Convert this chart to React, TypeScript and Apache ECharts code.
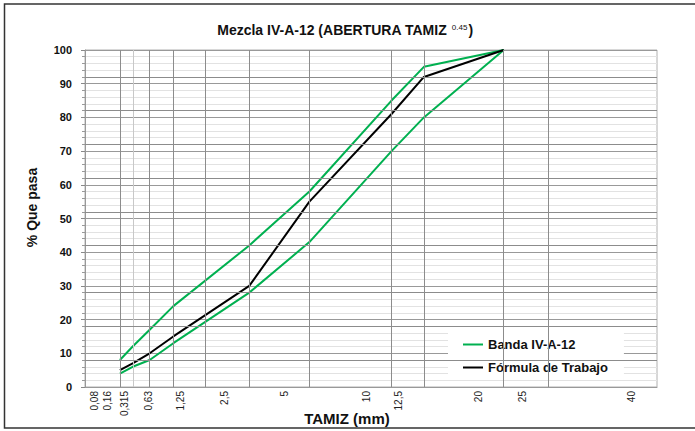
import React, { useEffect, useRef } from "react";
import * as echarts from "echarts";

const EXPONENT = 0.45;
const SIEVES = [0.08, 0.16, 0.315, 0.63, 1.25, 2.5, 5, 10, 12.5, 20, 25, 40];
const SIEVE_LABELS = ["0,08", "0,16", "0,315", "0,63", "1,25", "2,5", "5", "10", "12,5", "20", "25", "40"];
const BAND_SIEVES = [0.08, 0.16, 0.315, 0.63, 2.5, 5, 10, 12.5, 20];
const BAND_MIN = [4, 6, 8, 13, 28, 43, 70, 80, 100];
const BAND_MAX = [8, 12, 17, 24, 42, 58, 85, 95, 100];
const FORMULA_SIEVES = [0.08, 0.16, 0.315, 0.63, 2.5, 5, 10, 12.5, 20];
const FORMULA = [5, 7, 10, 15, 30, 55, 81, 92, 100];
const Y_DARK_RULES = [92, 82, 72, 62, 52, 42, 28, 18, 8];

const t = (d: number) => Math.pow(d, EXPONENT);
const X_MAX = t(40);
const LABEL_SHIFT = 0.23;

export default function App() {
  const ref = useRef<HTMLDivElement>(null);
  useEffect(() => {
    if (!ref.current) return;
    const chart = echarts.init(ref.current, null, { renderer: "svg" });
    const font = "Liberation Sans, Arial, sans-serif";
    const pts = (xs: number[], ys: number[]) => xs.map((d, i) => [t(d), ys[i]]);
    const sieveT = SIEVES.map(t);
    const lineIcon = "path://M0,0 L20,0 L20,2 L0,2 Z";
    chart.setOption({
      animation: false,
      backgroundColor: "#fff",
      title: {
        text: "{a|Mezcla IV-A-12 (ABERTURA TAMIZ }{s|0.45}{a|)}",
        left: 340,
        top: 18,
        textAlign: "center",
        textStyle: {
          rich: {
            a: { fontSize: 14, fontWeight: "bold", fontFamily: font, color: "#111" },
            s: { fontSize: 8, fontWeight: "normal", fontFamily: font, color: "#111", verticalAlign: "top", padding: [0, 1, 0, 1] },
          },
        },
      },
      legend: {
        data: [
          { name: "Banda IV-A-12", icon: lineIcon },
          { name: "Fórmula de Trabajo", icon: lineIcon },
        ],
        orient: "vertical",
        left: 448,
        top: 332,
        backgroundColor: "#fff",
        padding: [6, 16, 5, 15],
        itemWidth: 20,
        itemHeight: 14,
        itemGap: 10,
        textStyle: { fontSize: 13, fontWeight: "bold", color: "#111", fontFamily: font },
      },
      grid: {
        left: 85,
        right: 38,
        top: 50,
        bottom: 44,
        show: true,
        borderColor: "#b0b0b0",
        borderWidth: 1,
      },
      xAxis: [
        {
          type: "value",
          min: 0,
          max: X_MAX,
          axisLine: { show: true, onZero: false, lineStyle: { color: "#999" } },
          axisTick: { show: false },
          axisLabel: { show: false },
          splitLine: { show: false },
        },
        {
          type: "value",
          min: LABEL_SHIFT,
          max: X_MAX + LABEL_SHIFT,
          position: "bottom",
          axisLine: { show: false },
          axisTick: { show: false },
          splitLine: { show: false },
          axisLabel: {
            customValues: sieveT,
            rotate: 90,
            margin: 4,
            fontSize: 10,
            color: "#222",
            fontFamily: font,
            formatter: (v: number) => {
              let best = 0;
              sieveT.forEach((s, i) => {
                if (Math.abs(s - v) < Math.abs(sieveT[best] - v)) best = i;
              });
              return SIEVE_LABELS[best];
            },
          },
        },
      ],
      yAxis: {
        type: "value",
        min: 0,
        max: 100,
        interval: 10,
        axisLine: { show: true, lineStyle: { color: "#999" } },
        axisTick: { show: true, length: 4, lineStyle: { color: "#888" } },
        minorTick: { show: true, splitNumber: 5, length: 3, lineStyle: { color: "#999" } },
        axisLabel: { fontSize: 11, fontWeight: "bold", color: "#111", margin: 13, fontFamily: font },
        splitLine: { show: true, lineStyle: { color: "#999", width: 1 } },
        minorSplitLine: { show: true, lineStyle: { color: "#e2e2e2", width: 1 } },
      },
      graphic: [
        {
          type: "rect",
          shape: { x: 4.5, y: 4, width: 700, height: 424 },
          style: { fill: "none", stroke: "#333", lineWidth: 1.5 },
          silent: true,
        },
        {
          type: "text",
          x: 31.5,
          y: 207.5,
          rotation: Math.PI / 2,
          style: {
            text: "% Que pasa",
            font: "bold 14px Liberation Sans, Arial, sans-serif",
            fill: "#111",
            textAlign: "center",
            textVerticalAlign: "middle",
          },
        },
        {
          type: "text",
          x: 347,
          y: 418,
          style: {
            text: "TAMIZ (mm)",
            font: "bold 15px Liberation Sans, Arial, sans-serif",
            fill: "#111",
            textAlign: "center",
            textVerticalAlign: "middle",
          },
        },
      ],
      series: [
        {
          type: "line",
          name: "grid-rules",
          data: [],
          silent: true,
          z: 1,
          markLine: {
            silent: true,
            symbol: ["none", "none"],
            label: { show: false },
            lineStyle: { color: "#8c8c8c", width: 1, type: "solid" },
            data: [
              ...SIEVES.slice(0, -1).map((s) => ({
                xAxis: t(s),
                lineStyle: { color: s === 0.16 ? "#c8c8c8" : "#8c8c8c", width: 1, type: "solid" },
              })),
              ...Y_DARK_RULES.map((v) => ({ yAxis: v })),
            ],
          },
        },
        {
          type: "line",
          name: "Banda IV-A-12",
          data: pts(BAND_SIEVES, BAND_MAX),
          symbol: "none",
          color: "#00b050",
          lineStyle: { width: 2, color: "#00b050" },
          z: 3,
        },
        {
          type: "line",
          name: "Banda IV-A-12",
          data: pts(BAND_SIEVES, BAND_MIN),
          symbol: "none",
          color: "#00b050",
          lineStyle: { width: 2, color: "#00b050" },
          z: 3,
        },
        {
          type: "line",
          name: "Fórmula de Trabajo",
          data: pts(FORMULA_SIEVES, FORMULA),
          symbol: "none",
          color: "#000",
          lineStyle: { width: 2, color: "#000" },
          z: 4,
        },
      ],
    });
    return () => chart.dispose();
  }, []);
  return (
    <div
      ref={ref}
      style={{ position: "fixed", left: 0, top: 0, width: 695, height: 431, background: "#fff" }}
    />
  );
}
